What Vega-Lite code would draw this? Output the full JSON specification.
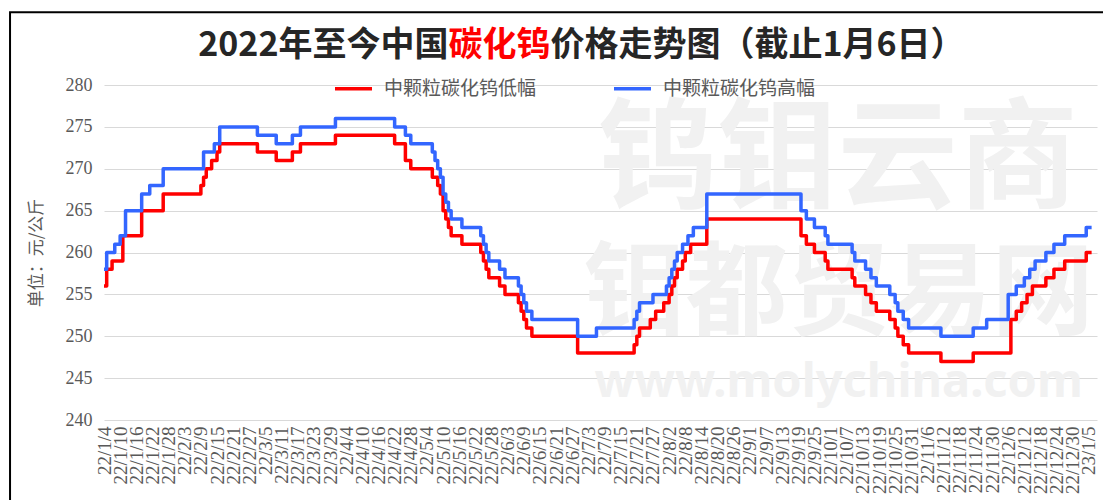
{
  "$schema": "https://vega.github.io/schema/vega-lite/v6.json",
  "width": 993,
  "height": 335,
  "autosize": {"type": "none"},
  "padding": {"left": 104, "top": 85, "right": 6, "bottom": 80},
  "background": "white",
  "config": {"view": {"stroke": null}, "axis": {"labelOverlap": false}, "axisX": {"labelOverlap": false, "labelFlush": false}},
  "layer": [
    {
      "data": {"values": [{}]},
      "mark": {"type": "rect", "fill": null, "stroke": "#000000", "strokeWidth": 2, "clip": false},
      "encoding": {
        "x": {"datum": {"year": 2021, "month": 11, "date": 30, "hours": 2}, "type": "temporal"},
        "x2": {"datum": {"year": 2023, "month": 1, "date": 25}},
        "y": {"datum": 288.7, "type": "quantitative"},
        "y2": {"datum": 228}
      }
    },
    {
      "data": {"values": [{}]},
      "mark": {"type": "text", "text": "钨钼云商", "align": "center", "baseline": "middle", "font": "Noto Sans CJK SC", "fontSize": 120, "fontWeight": "bold", "color": "#f1f1f1", "clip": false},
      "encoding": {
        "x": {"datum": {"year": 2022, "month": 10, "date": 3, "hours": 16}, "type": "temporal"},
        "y": {"datum": 270.7, "type": "quantitative"}
      }
    },
    {
      "data": {"values": [{}]},
      "mark": {"type": "text", "text": "钼都贸易网", "align": "center", "baseline": "middle", "font": "Noto Sans CJK SC", "fontSize": 102, "fontWeight": "bold", "color": "#f1f1f1", "clip": false},
      "encoding": {
        "x": {"datum": {"year": 2022, "month": 10, "date": 4}, "type": "temporal"},
        "y": {"datum": 254.8, "type": "quantitative"}
      }
    },
    {
      "data": {"values": [{}]},
      "mark": {"type": "text", "text": "www.molychina.com", "align": "center", "baseline": "middle", "font": "Noto Sans", "fontSize": 47, "fontWeight": "bold", "color": "#f1f1f1", "clip": false},
      "encoding": {
        "x": {"datum": {"year": 2022, "month": 10, "date": 4}, "type": "temporal"},
        "y": {"datum": 244.4, "type": "quantitative"}
      }
    },
    {
      "data": {"values": [
        {"date": "2022/1/4", "series": "中颗粒碳化钨低幅", "price": 256},
        {"date": "2022/1/5", "series": "中颗粒碳化钨低幅", "price": 258},
        {"date": "2022/1/7", "series": "中颗粒碳化钨低幅", "price": 259},
        {"date": "2022/1/11", "series": "中颗粒碳化钨低幅", "price": 262},
        {"date": "2022/1/18", "series": "中颗粒碳化钨低幅", "price": 265},
        {"date": "2022/1/26", "series": "中颗粒碳化钨低幅", "price": 267},
        {"date": "2022/2/9", "series": "中颗粒碳化钨低幅", "price": 268},
        {"date": "2022/2/10", "series": "中颗粒碳化钨低幅", "price": 269},
        {"date": "2022/2/11", "series": "中颗粒碳化钨低幅", "price": 270},
        {"date": "2022/2/13", "series": "中颗粒碳化钨低幅", "price": 271},
        {"date": "2022/2/15", "series": "中颗粒碳化钨低幅", "price": 272},
        {"date": "2022/2/16", "series": "中颗粒碳化钨低幅", "price": 273},
        {"date": "2022/3/2", "series": "中颗粒碳化钨低幅", "price": 272},
        {"date": "2022/3/9", "series": "中颗粒碳化钨低幅", "price": 271},
        {"date": "2022/3/15", "series": "中颗粒碳化钨低幅", "price": 272},
        {"date": "2022/3/18", "series": "中颗粒碳化钨低幅", "price": 273},
        {"date": "2022/3/31", "series": "中颗粒碳化钨低幅", "price": 274},
        {"date": "2022/4/22", "series": "中颗粒碳化钨低幅", "price": 273},
        {"date": "2022/4/26", "series": "中颗粒碳化钨低幅", "price": 271},
        {"date": "2022/4/28", "series": "中颗粒碳化钨低幅", "price": 270},
        {"date": "2022/5/6", "series": "中颗粒碳化钨低幅", "price": 269},
        {"date": "2022/5/8", "series": "中颗粒碳化钨低幅", "price": 268},
        {"date": "2022/5/9", "series": "中颗粒碳化钨低幅", "price": 267},
        {"date": "2022/5/10", "series": "中颗粒碳化钨低幅", "price": 265},
        {"date": "2022/5/11", "series": "中颗粒碳化钨低幅", "price": 264},
        {"date": "2022/5/12", "series": "中颗粒碳化钨低幅", "price": 263},
        {"date": "2022/5/13", "series": "中颗粒碳化钨低幅", "price": 262},
        {"date": "2022/5/17", "series": "中颗粒碳化钨低幅", "price": 261},
        {"date": "2022/5/24", "series": "中颗粒碳化钨低幅", "price": 260},
        {"date": "2022/5/25", "series": "中颗粒碳化钨低幅", "price": 259},
        {"date": "2022/5/26", "series": "中颗粒碳化钨低幅", "price": 258},
        {"date": "2022/5/27", "series": "中颗粒碳化钨低幅", "price": 257},
        {"date": "2022/5/31", "series": "中颗粒碳化钨低幅", "price": 256},
        {"date": "2022/6/2", "series": "中颗粒碳化钨低幅", "price": 255},
        {"date": "2022/6/7", "series": "中颗粒碳化钨低幅", "price": 254},
        {"date": "2022/6/8", "series": "中颗粒碳化钨低幅", "price": 253},
        {"date": "2022/6/9", "series": "中颗粒碳化钨低幅", "price": 252},
        {"date": "2022/6/10", "series": "中颗粒碳化钨低幅", "price": 251},
        {"date": "2022/6/12", "series": "中颗粒碳化钨低幅", "price": 250},
        {"date": "2022/6/29", "series": "中颗粒碳化钨低幅", "price": 248},
        {"date": "2022/7/20", "series": "中颗粒碳化钨低幅", "price": 249},
        {"date": "2022/7/21", "series": "中颗粒碳化钨低幅", "price": 250},
        {"date": "2022/7/22", "series": "中颗粒碳化钨低幅", "price": 251},
        {"date": "2022/7/26", "series": "中颗粒碳化钨低幅", "price": 252},
        {"date": "2022/7/28", "series": "中颗粒碳化钨低幅", "price": 253},
        {"date": "2022/7/31", "series": "中颗粒碳化钨低幅", "price": 254},
        {"date": "2022/8/2", "series": "中颗粒碳化钨低幅", "price": 255},
        {"date": "2022/8/3", "series": "中颗粒碳化钨低幅", "price": 256},
        {"date": "2022/8/4", "series": "中颗粒碳化钨低幅", "price": 257},
        {"date": "2022/8/5", "series": "中颗粒碳化钨低幅", "price": 258},
        {"date": "2022/8/7", "series": "中颗粒碳化钨低幅", "price": 259},
        {"date": "2022/8/8", "series": "中颗粒碳化钨低幅", "price": 260},
        {"date": "2022/8/10", "series": "中颗粒碳化钨低幅", "price": 261},
        {"date": "2022/8/16", "series": "中颗粒碳化钨低幅", "price": 264},
        {"date": "2022/9/20", "series": "中颗粒碳化钨低幅", "price": 262},
        {"date": "2022/9/22", "series": "中颗粒碳化钨低幅", "price": 261},
        {"date": "2022/9/25", "series": "中颗粒碳化钨低幅", "price": 260},
        {"date": "2022/9/29", "series": "中颗粒碳化钨低幅", "price": 259},
        {"date": "2022/9/30", "series": "中颗粒碳化钨低幅", "price": 258},
        {"date": "2022/10/9", "series": "中颗粒碳化钨低幅", "price": 257},
        {"date": "2022/10/10", "series": "中颗粒碳化钨低幅", "price": 256},
        {"date": "2022/10/14", "series": "中颗粒碳化钨低幅", "price": 255},
        {"date": "2022/10/16", "series": "中颗粒碳化钨低幅", "price": 254},
        {"date": "2022/10/18", "series": "中颗粒碳化钨低幅", "price": 253},
        {"date": "2022/10/23", "series": "中颗粒碳化钨低幅", "price": 252},
        {"date": "2022/10/25", "series": "中颗粒碳化钨低幅", "price": 251},
        {"date": "2022/10/26", "series": "中颗粒碳化钨低幅", "price": 250},
        {"date": "2022/10/28", "series": "中颗粒碳化钨低幅", "price": 249},
        {"date": "2022/10/30", "series": "中颗粒碳化钨低幅", "price": 248},
        {"date": "2022/11/11", "series": "中颗粒碳化钨低幅", "price": 247},
        {"date": "2022/11/23", "series": "中颗粒碳化钨低幅", "price": 248},
        {"date": "2022/12/7", "series": "中颗粒碳化钨低幅", "price": 252},
        {"date": "2022/12/9", "series": "中颗粒碳化钨低幅", "price": 253},
        {"date": "2022/12/11", "series": "中颗粒碳化钨低幅", "price": 254},
        {"date": "2022/12/13", "series": "中颗粒碳化钨低幅", "price": 255},
        {"date": "2022/12/15", "series": "中颗粒碳化钨低幅", "price": 256},
        {"date": "2022/12/20", "series": "中颗粒碳化钨低幅", "price": 257},
        {"date": "2022/12/23", "series": "中颗粒碳化钨低幅", "price": 258},
        {"date": "2022/12/27", "series": "中颗粒碳化钨低幅", "price": 259},
        {"date": "2023/1/4", "series": "中颗粒碳化钨低幅", "price": 260},
        {"date": "2023/1/6", "series": "中颗粒碳化钨低幅", "price": 260},
        {"date": "2022/1/4", "series": "中颗粒碳化钨高幅", "price": 258},
        {"date": "2022/1/5", "series": "中颗粒碳化钨高幅", "price": 260},
        {"date": "2022/1/8", "series": "中颗粒碳化钨高幅", "price": 261},
        {"date": "2022/1/10", "series": "中颗粒碳化钨高幅", "price": 262},
        {"date": "2022/1/12", "series": "中颗粒碳化钨高幅", "price": 265},
        {"date": "2022/1/18", "series": "中颗粒碳化钨高幅", "price": 267},
        {"date": "2022/1/21", "series": "中颗粒碳化钨高幅", "price": 268},
        {"date": "2022/1/26", "series": "中颗粒碳化钨高幅", "price": 270},
        {"date": "2022/2/10", "series": "中颗粒碳化钨高幅", "price": 272},
        {"date": "2022/2/14", "series": "中颗粒碳化钨高幅", "price": 273},
        {"date": "2022/2/16", "series": "中颗粒碳化钨高幅", "price": 275},
        {"date": "2022/3/2", "series": "中颗粒碳化钨高幅", "price": 274},
        {"date": "2022/3/9", "series": "中颗粒碳化钨高幅", "price": 273},
        {"date": "2022/3/15", "series": "中颗粒碳化钨高幅", "price": 274},
        {"date": "2022/3/18", "series": "中颗粒碳化钨高幅", "price": 275},
        {"date": "2022/3/31", "series": "中颗粒碳化钨高幅", "price": 276},
        {"date": "2022/4/22", "series": "中颗粒碳化钨高幅", "price": 275},
        {"date": "2022/4/26", "series": "中颗粒碳化钨高幅", "price": 274},
        {"date": "2022/4/28", "series": "中颗粒碳化钨高幅", "price": 273},
        {"date": "2022/5/6", "series": "中颗粒碳化钨高幅", "price": 272},
        {"date": "2022/5/7", "series": "中颗粒碳化钨高幅", "price": 271},
        {"date": "2022/5/8", "series": "中颗粒碳化钨高幅", "price": 270},
        {"date": "2022/5/9", "series": "中颗粒碳化钨高幅", "price": 269},
        {"date": "2022/5/10", "series": "中颗粒碳化钨高幅", "price": 267},
        {"date": "2022/5/11", "series": "中颗粒碳化钨高幅", "price": 266},
        {"date": "2022/5/12", "series": "中颗粒碳化钨高幅", "price": 265},
        {"date": "2022/5/13", "series": "中颗粒碳化钨高幅", "price": 264},
        {"date": "2022/5/17", "series": "中颗粒碳化钨高幅", "price": 263},
        {"date": "2022/5/24", "series": "中颗粒碳化钨高幅", "price": 262},
        {"date": "2022/5/25", "series": "中颗粒碳化钨高幅", "price": 261},
        {"date": "2022/5/26", "series": "中颗粒碳化钨高幅", "price": 260},
        {"date": "2022/5/27", "series": "中颗粒碳化钨高幅", "price": 259},
        {"date": "2022/5/31", "series": "中颗粒碳化钨高幅", "price": 258},
        {"date": "2022/6/2", "series": "中颗粒碳化钨高幅", "price": 257},
        {"date": "2022/6/7", "series": "中颗粒碳化钨高幅", "price": 256},
        {"date": "2022/6/8", "series": "中颗粒碳化钨高幅", "price": 255},
        {"date": "2022/6/9", "series": "中颗粒碳化钨高幅", "price": 254},
        {"date": "2022/6/10", "series": "中颗粒碳化钨高幅", "price": 253},
        {"date": "2022/6/12", "series": "中颗粒碳化钨高幅", "price": 252},
        {"date": "2022/6/29", "series": "中颗粒碳化钨高幅", "price": 250},
        {"date": "2022/7/6", "series": "中颗粒碳化钨高幅", "price": 251},
        {"date": "2022/7/20", "series": "中颗粒碳化钨高幅", "price": 252},
        {"date": "2022/7/21", "series": "中颗粒碳化钨高幅", "price": 253},
        {"date": "2022/7/22", "series": "中颗粒碳化钨高幅", "price": 254},
        {"date": "2022/7/27", "series": "中颗粒碳化钨高幅", "price": 255},
        {"date": "2022/8/1", "series": "中颗粒碳化钨高幅", "price": 256},
        {"date": "2022/8/2", "series": "中颗粒碳化钨高幅", "price": 257},
        {"date": "2022/8/3", "series": "中颗粒碳化钨高幅", "price": 258},
        {"date": "2022/8/4", "series": "中颗粒碳化钨高幅", "price": 259},
        {"date": "2022/8/5", "series": "中颗粒碳化钨高幅", "price": 260},
        {"date": "2022/8/7", "series": "中颗粒碳化钨高幅", "price": 261},
        {"date": "2022/8/9", "series": "中颗粒碳化钨高幅", "price": 262},
        {"date": "2022/8/11", "series": "中颗粒碳化钨高幅", "price": 263},
        {"date": "2022/8/16", "series": "中颗粒碳化钨高幅", "price": 267},
        {"date": "2022/9/20", "series": "中颗粒碳化钨高幅", "price": 265},
        {"date": "2022/9/22", "series": "中颗粒碳化钨高幅", "price": 264},
        {"date": "2022/9/25", "series": "中颗粒碳化钨高幅", "price": 263},
        {"date": "2022/9/29", "series": "中颗粒碳化钨高幅", "price": 262},
        {"date": "2022/9/30", "series": "中颗粒碳化钨高幅", "price": 261},
        {"date": "2022/10/9", "series": "中颗粒碳化钨高幅", "price": 260},
        {"date": "2022/10/10", "series": "中颗粒碳化钨高幅", "price": 259},
        {"date": "2022/10/14", "series": "中颗粒碳化钨高幅", "price": 258},
        {"date": "2022/10/16", "series": "中颗粒碳化钨高幅", "price": 257},
        {"date": "2022/10/18", "series": "中颗粒碳化钨高幅", "price": 256},
        {"date": "2022/10/23", "series": "中颗粒碳化钨高幅", "price": 255},
        {"date": "2022/10/25", "series": "中颗粒碳化钨高幅", "price": 254},
        {"date": "2022/10/26", "series": "中颗粒碳化钨高幅", "price": 253},
        {"date": "2022/10/28", "series": "中颗粒碳化钨高幅", "price": 252},
        {"date": "2022/10/30", "series": "中颗粒碳化钨高幅", "price": 251},
        {"date": "2022/11/11", "series": "中颗粒碳化钨高幅", "price": 250},
        {"date": "2022/11/23", "series": "中颗粒碳化钨高幅", "price": 251},
        {"date": "2022/11/28", "series": "中颗粒碳化钨高幅", "price": 252},
        {"date": "2022/12/6", "series": "中颗粒碳化钨高幅", "price": 255},
        {"date": "2022/12/9", "series": "中颗粒碳化钨高幅", "price": 256},
        {"date": "2022/12/12", "series": "中颗粒碳化钨高幅", "price": 257},
        {"date": "2022/12/14", "series": "中颗粒碳化钨高幅", "price": 258},
        {"date": "2022/12/16", "series": "中颗粒碳化钨高幅", "price": 259},
        {"date": "2022/12/20", "series": "中颗粒碳化钨高幅", "price": 260},
        {"date": "2022/12/23", "series": "中颗粒碳化钨高幅", "price": 261},
        {"date": "2022/12/27", "series": "中颗粒碳化钨高幅", "price": 262},
        {"date": "2023/1/4", "series": "中颗粒碳化钨高幅", "price": 263},
        {"date": "2023/1/6", "series": "中颗粒碳化钨高幅", "price": 263}
      ]},
      "mark": {"type": "line", "interpolate": "step-after", "strokeWidth": 3.5, "strokeJoin": "round"},
      "encoding": {
        "x": {
          "field": "date", "type": "temporal",
          "scale": {"domain": [{"year": 2022, "month": 1, "date": 4}, {"year": 2023, "month": 1, "date": 8}]},
          "axis": {
            "title": null,
            "tickCount": 200,
            "values": [
              {"year": 2022, "month": 1, "date": 4}, {"year": 2022, "month": 1, "date": 10}, {"year": 2022, "month": 1, "date": 16}, {"year": 2022, "month": 1, "date": 22}, {"year": 2022, "month": 1, "date": 28},
              {"year": 2022, "month": 2, "date": 3}, {"year": 2022, "month": 2, "date": 9}, {"year": 2022, "month": 2, "date": 15}, {"year": 2022, "month": 2, "date": 21}, {"year": 2022, "month": 2, "date": 27},
              {"year": 2022, "month": 3, "date": 5}, {"year": 2022, "month": 3, "date": 11}, {"year": 2022, "month": 3, "date": 17}, {"year": 2022, "month": 3, "date": 23}, {"year": 2022, "month": 3, "date": 29},
              {"year": 2022, "month": 4, "date": 4}, {"year": 2022, "month": 4, "date": 10}, {"year": 2022, "month": 4, "date": 16}, {"year": 2022, "month": 4, "date": 22}, {"year": 2022, "month": 4, "date": 28},
              {"year": 2022, "month": 5, "date": 4}, {"year": 2022, "month": 5, "date": 10}, {"year": 2022, "month": 5, "date": 16}, {"year": 2022, "month": 5, "date": 22}, {"year": 2022, "month": 5, "date": 28},
              {"year": 2022, "month": 6, "date": 3}, {"year": 2022, "month": 6, "date": 9}, {"year": 2022, "month": 6, "date": 15}, {"year": 2022, "month": 6, "date": 21}, {"year": 2022, "month": 6, "date": 27},
              {"year": 2022, "month": 7, "date": 3}, {"year": 2022, "month": 7, "date": 9}, {"year": 2022, "month": 7, "date": 15}, {"year": 2022, "month": 7, "date": 21}, {"year": 2022, "month": 7, "date": 27},
              {"year": 2022, "month": 8, "date": 2}, {"year": 2022, "month": 8, "date": 8}, {"year": 2022, "month": 8, "date": 14}, {"year": 2022, "month": 8, "date": 20}, {"year": 2022, "month": 8, "date": 26},
              {"year": 2022, "month": 9, "date": 1}, {"year": 2022, "month": 9, "date": 7}, {"year": 2022, "month": 9, "date": 13}, {"year": 2022, "month": 9, "date": 19}, {"year": 2022, "month": 9, "date": 25},
              {"year": 2022, "month": 10, "date": 1}, {"year": 2022, "month": 10, "date": 7}, {"year": 2022, "month": 10, "date": 13}, {"year": 2022, "month": 10, "date": 19}, {"year": 2022, "month": 10, "date": 25}, {"year": 2022, "month": 10, "date": 31},
              {"year": 2022, "month": 11, "date": 6}, {"year": 2022, "month": 11, "date": 12}, {"year": 2022, "month": 11, "date": 18}, {"year": 2022, "month": 11, "date": 24}, {"year": 2022, "month": 11, "date": 30},
              {"year": 2022, "month": 12, "date": 6}, {"year": 2022, "month": 12, "date": 12}, {"year": 2022, "month": 12, "date": 18}, {"year": 2022, "month": 12, "date": 24}, {"year": 2022, "month": 12, "date": 30},
              {"year": 2023, "month": 1, "date": 5}
            ],
            "format": "%y/%-m/%-d",
            "labelAngle": 270,
            "labelFont": "Liberation Serif",
            "labelFontSize": 19,
            "labelColor": "#595959",
            "labelPadding": 6,
            "labelOverlap": false,
            "labelFlush": false,
            "labelSeparation": 0,
            "ticks": false,
            "domain": false,
            "grid": false
          }
        },
        "y": {
          "field": "price", "type": "quantitative",
          "scale": {"domain": [240, 280], "nice": false, "zero": false},
          "axis": {
            "title": "单位：元/公斤",
            "titleFont": "Noto Sans CJK SC",
            "titleFontSize": 17,
            "titleFontWeight": "normal",
            "titleColor": "#595959",
            "titlePadding": 20,
            "tickCount": 20,
            "values": [240, 245, 250, 255, 260, 265, 270, 275, 280],
            "labelFont": "Liberation Serif",
            "labelFontSize": 18,
            "labelColor": "#595959",
            "labelPadding": 12,
            "ticks": false,
            "domain": false,
            "grid": true,
            "gridColor": "#d9d9d9",
            "gridWidth": 1
          }
        },
        "color": {
          "field": "series", "type": "nominal",
          "scale": {"domain": ["中颗粒碳化钨低幅", "中颗粒碳化钨高幅"], "range": ["#ff0000", "#3366ff"]},
          "legend": {
            "title": null,
            "orient": "none",
            "legendX": 229,
            "legendY": -17,
            "direction": "horizontal",
            "symbolType": "stroke",
            "symbolSize": 1369,
            "symbolStrokeWidth": 3.5,
            "labelFont": "Noto Sans CJK SC",
            "labelFontSize": 19,
            "labelColor": "#595959",
            "labelOffset": 10,
            "labelLimit": 400,
            "columnPadding": 70,
            "padding": 0
          }
        }
      }
    },
    {
      "data": {"values": [{}]},
      "mark": {"type": "text", "text": "2022年至今中国", "align": "right", "baseline": "middle", "font": "Noto Sans CJK SC", "fontSize": 34, "fontWeight": "bold", "color": "#262626", "clip": false},
      "encoding": {
        "x": {"datum": {"year": 2022, "month": 5, "date": 12}, "type": "temporal"},
        "y": {"datum": 284.6, "type": "quantitative"}
      }
    },
    {
      "data": {"values": [{}]},
      "mark": {"type": "text", "text": "碳化钨", "align": "left", "baseline": "middle", "font": "Noto Sans CJK SC", "fontSize": 34, "fontWeight": "bold", "color": "#ff0000", "clip": false},
      "encoding": {
        "x": {"datum": {"year": 2022, "month": 5, "date": 12}, "type": "temporal"},
        "y": {"datum": 284.6, "type": "quantitative"}
      }
    },
    {
      "data": {"values": [{}]},
      "mark": {"type": "text", "text": "价格走势图（截止1月6日）", "align": "left", "dx": 102, "baseline": "middle", "font": "Noto Sans CJK SC", "fontSize": 34, "fontWeight": "bold", "color": "#262626", "clip": false},
      "encoding": {
        "x": {"datum": {"year": 2022, "month": 5, "date": 12}, "type": "temporal"},
        "y": {"datum": 284.6, "type": "quantitative"}
      }
    }
  ]
}
